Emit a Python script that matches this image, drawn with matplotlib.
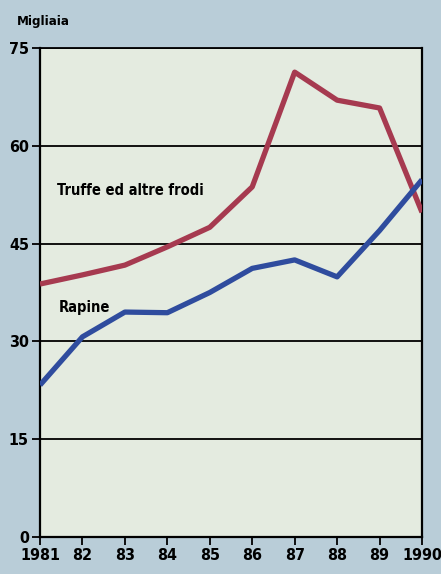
import matplotlib
matplotlib.use("Agg")
from matplotlib import pyplot as plt

years = [1981, 1982, 1983, 1984, 1985, 1986, 1987, 1988, 1989, 1990]
year_labels = ["1981", "82", "83", "84", "85", "86", "87", "88", "89", "1990"]
truffe = [38.8, 40.2, 41.7, 44.5, 47.5, 53.7, 71.3, 67.0, 65.8, 49.8]
rapine = [23.3, 30.7, 34.5, 34.4, 37.5, 41.2, 42.5, 39.9, 47.0, 54.8]
y_ticks = [0, 15, 30, 45, 60, 75]

plt.rcParams["font.family"] = ["Liberation Sans Narrow", "DejaVu Sans"]
plt.rcParams["font.stretch"] = "condensed"

fig = plt.figure(figsize = (4.41, 5.74), dpi = 100, facecolor = "#b9cdd8")
ax = fig.add_axes([40 / 441, 37 / 574, 382 / 441, 489 / 574])
ax.set_facecolor("#e4ebe0")

# horizontal grid lines at each tick
for t in y_ticks[1:]:
    ax.axhline(t, color = "black", lw = 1.3, zorder = 1)

ax.plot(years, truffe, color = "#a63a50", lw = 3.8, solid_capstyle = "butt", zorder = 3)
ax.plot(years, rapine, color = "#2f4c9e", lw = 3.8, solid_capstyle = "butt", zorder = 3)

ax.text(1981.4, 53.2, "Truffe ed altre frodi", fontsize = 10.5, fontweight = "bold", va = "center")
ax.text(1981.45, 35.2, "Rapine", fontsize = 10.5, fontweight = "bold", va = "center")

ax.set_xlim(1981, 1990)
ax.set_ylim(0, 75)
ax.set_xticks(years)
ax.set_xticklabels(year_labels)
ax.set_yticks(y_ticks)
ax.tick_params(axis = "both", direction = "out", length = 6, width = 1.3, labelsize = 11.5, pad = 2)
for lab in ax.get_xticklabels() + ax.get_yticklabels():
    lab.set_fontweight("bold")

for side in ["left", "bottom", "right"]:
    ax.spines[side].set_linewidth(1.6)
ax.spines["top"].set_linewidth(1.3)

fig.text(17 / 441, 1 - 22 / 574, "Migliaia", fontsize = 9.5, fontweight = "bold", va = "center")

fig.savefig("out.png", dpi = 100, facecolor = fig.get_facecolor())
